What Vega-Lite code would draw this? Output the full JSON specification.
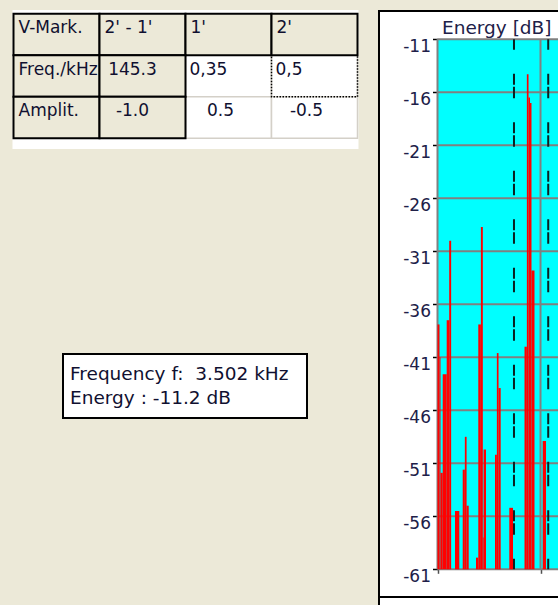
{
  "$schema": "https://vega.github.io/schema/vega-lite/v6.json",
  "background": "#ECE9D8",
  "padding": {"left": 12, "top": 9, "right": 0, "bottom": 0},
  "spacing": 18,
  "config": {"view": {"stroke": null}, "font": "DejaVu Sans"},
  "hconcat": [
    {
      "spacing": 204,
      "center": true,
      "vconcat": [
        {
          "width": 346,
          "height": 139,
          "view": {"fill": "white", "stroke": null},
          "data": {"values": [
            {"r": 0, "c": 0, "text": "V-Mark."}, {"r": 0, "c": 1, "text": "2' - 1'"}, {"r": 0, "c": 2, "text": "1'"}, {"r": 0, "c": 3, "text": "2'"},
            {"r": 1, "c": 0, "text": "Freq./kHz"}, {"r": 1, "c": 1, "text": "145.3"}, {"r": 1, "c": 2, "text": "0,35"}, {"r": 1, "c": 3, "text": "0,5"},
            {"r": 2, "c": 0, "text": "Amplit."}, {"r": 2, "c": 1, "text": "-1.0"}, {"r": 2, "c": 2, "text": "0.5"}, {"r": 2, "c": 3, "text": "-0.5"}
          ]},
          "encoding": {
            "x": {"field": "c", "type": "ordinal", "axis": null, "scale": {"paddingInner": 0, "paddingOuter": 0.0116}},
            "y": {"field": "r", "type": "ordinal", "axis": null, "scale": {"paddingInner": 0, "paddingOuter": 0.1747, "align": 0.255}}
          },
          "layer": [
            {"transform": [{"filter": "datum.r > 0 && datum.c > 1"}], "mark": {"type": "rect", "fill": "white", "stroke": "#D4D0C8", "strokeWidth": 1.5}},
            {"transform": [{"filter": "datum.r == 1 && datum.c == 3"}], "mark": {"type": "rect", "fill": null, "stroke": "#000000", "strokeWidth": 1.5, "strokeDash": [1.5, 1.5]}},
            {"transform": [{"filter": "datum.r == 0 || datum.c <= 1"}], "mark": {"type": "rect", "fill": "#ECE9D8", "stroke": "#000000", "strokeWidth": 2}},
            {
              "transform": [{"filter": "datum.r == 0 || datum.c == 0"}],
              "mark": {"type": "text", "align": "left", "baseline": "middle", "dx": 5, "dy": -6, "fontSize": 17, "limit": 80, "ellipsis": "", "color": "#101030"},
              "encoding": {"x": {"field": "c", "type": "ordinal", "bandPosition": 0}, "text": {"field": "text"}}
            },
            {
              "transform": [{"filter": "datum.r > 0 && datum.c == 1"}],
              "mark": {"type": "text", "align": "center", "baseline": "middle", "dx": -10, "dy": -6, "fontSize": 17, "color": "#101030"},
              "encoding": {"text": {"field": "text"}}
            },
            {
              "transform": [{"filter": "datum.r == 1 && datum.c > 1"}],
              "mark": {"type": "text", "align": "left", "baseline": "middle", "dx": 4, "dy": -6, "fontSize": 17, "color": "#101030"},
              "encoding": {"x": {"field": "c", "type": "ordinal", "bandPosition": 0}, "text": {"field": "text"}}
            },
            {
              "transform": [{"filter": "datum.r == 2 && datum.c > 1"}],
              "mark": {"type": "text", "align": "center", "baseline": "middle", "dx": -8, "dy": -6, "fontSize": 17, "color": "#101030"},
              "encoding": {"text": {"field": "text"}}
            }
          ]
        },
        {
          "width": 244,
          "height": 64,
          "view": {"fill": "white", "stroke": "#000000", "strokeWidth": 2},
          "data": {"values": [
            {"line": 1, "text": "Frequency f:\u00a0 3.502 kHz"},
            {"line": 2, "text": "Energy : -11.2 dB"}
          ]},
          "mark": {"type": "text", "align": "left", "baseline": "alphabetic", "dx": 7, "fontSize": 18.5, "color": "#101030"},
          "encoding": {
            "x": {"datum": 0, "type": "quantitative", "scale": {"domain": [0, 1]}, "axis": null},
            "y": {"field": "line", "type": "ordinal", "axis": null, "scale": {"type": "point", "padding": 0.817, "align": 0.655}},
            "text": {"field": "text"}
          }
        }
      ]
    },
    {
      "width": 180,
      "height": 596,
      "view": {"fill": "white", "stroke": null},
      "layer": [
        {
          "data": {"values": [{}]},
          "mark": {"type": "rect", "fill": "#00FFFF"},
          "encoding": {
            "x": {"datum": 0, "type": "quantitative", "scale": {"domain": [-2.3107, 4.6796], "nice": false, "zero": false},
              "axis": {"orient": "bottom", "offset": -36.7, "values": [0, 4], "labels": false, "domain": false, "grid": false, "tickSize": 4, "tickColor": "#505050", "tickWidth": 1.5, "title": null}},
            "x2": {"datum": 4.6796},
            "y": {"datum": -61, "type": "quantitative", "scale": {"domain": [-64.462, -8.236], "nice": false, "zero": false},
              "axis": {"orient": "left", "offset": -59.5, "values": [-11, -16, -21, -26, -31, -36, -41, -46, -51, -56, -61], "labelExpr": "replace(datum.label, '\u2212', '-')", "domain": false, "grid": false, "ticks": true, "tickSize": 5, "tickColor": "#000000", "tickWidth": 1.5, "labelFont": "DejaVu Sans", "labelFontSize": 17, "labelColor": "#202048", "labelBaseline": "top", "labelOffset": -1, "labelPadding": 2, "title": null}},
            "y2": {"datum": -11}
          }
        },
        {
          "data": {"values": [{"db": -11}, {"db": -16}, {"db": -21}, {"db": -26}, {"db": -31}, {"db": -36}, {"db": -41}, {"db": -46}, {"db": -51}, {"db": -56}, {"db": -61}]},
          "mark": {"type": "rule", "color": "#808080", "strokeWidth": 2},
          "encoding": {
            "y": {"field": "db", "type": "quantitative", "scale": {"domain": [-64.462, -8.236], "nice": false, "zero": false},
              "axis": {"orient": "left", "offset": -59.5, "values": [-11, -16, -21, -26, -31, -36, -41, -46, -51, -56, -61], "labelExpr": "replace(datum.label, '\u2212', '-')", "domain": false, "grid": false, "ticks": true, "tickSize": 5, "tickColor": "#000000", "tickWidth": 1.5, "labelFont": "DejaVu Sans", "labelFontSize": 17, "labelColor": "#202048", "labelBaseline": "top", "labelOffset": -1, "labelPadding": 2, "title": null}},
            "x": {"datum": 0, "type": "quantitative", "scale": {"domain": [-2.3107, 4.6796], "nice": false, "zero": false},
              "axis": {"orient": "bottom", "offset": -36.7, "values": [0, 4], "labels": false, "domain": false, "grid": false, "tickSize": 4, "tickColor": "#505050", "tickWidth": 1.5, "title": null}},
            "x2": {"datum": 4.6796}
          }
        },
        {
          "data": {"values": [{"f": 0}, {"f": 4}]},
          "mark": {"type": "rule", "color": "#808080", "strokeWidth": 2},
          "encoding": {
            "x": {"field": "f", "type": "quantitative", "scale": {"domain": [-2.3107, 4.6796], "nice": false, "zero": false},
              "axis": {"orient": "bottom", "offset": -36.7, "values": [0, 4], "labels": false, "domain": false, "grid": false, "tickSize": 4, "tickColor": "#505050", "tickWidth": 1.5, "title": null}},
            "y": {"datum": -61, "type": "quantitative", "scale": {"domain": [-64.462, -8.236], "nice": false, "zero": false},
              "axis": {"orient": "left", "offset": -59.5, "values": [-11, -16, -21, -26, -31, -36, -41, -46, -51, -56, -61], "labelExpr": "replace(datum.label, '\u2212', '-')", "domain": false, "grid": false, "ticks": true, "tickSize": 5, "tickColor": "#000000", "tickWidth": 1.5, "labelFont": "DejaVu Sans", "labelFontSize": 17, "labelColor": "#202048", "labelBaseline": "top", "labelOffset": -1, "labelPadding": 2, "title": null}},
            "y2": {"datum": -11}
          }
        },
        {
          "data": {"values": [
            {"f0": 0.000, "f1": 0.078, "db": -37.9},
            {"f0": 0.078, "f1": 0.117, "db": -41.0},
            {"f0": 0.117, "f1": 0.202, "db": -51.9},
            {"f0": 0.202, "f1": 0.357, "db": -42.6},
            {"f0": 0.357, "f1": 0.455, "db": -37.5},
            {"f0": 0.455, "f1": 0.530, "db": -30.0},
            {"f0": 0.680, "f1": 0.847, "db": -55.5},
            {"f0": 0.979, "f1": 1.062, "db": -51.6},
            {"f0": 1.062, "f1": 1.130, "db": -48.5},
            {"f0": 1.130, "f1": 1.212, "db": -55.0},
            {"f0": 1.495, "f1": 1.584, "db": -59.9},
            {"f0": 1.584, "f1": 1.685, "db": -37.9},
            {"f0": 1.685, "f1": 1.760, "db": -28.7},
            {"f0": 1.760, "f1": 1.790, "db": -58.0},
            {"f0": 1.790, "f1": 1.883, "db": -49.7},
            {"f0": 2.233, "f1": 2.305, "db": -50.2},
            {"f0": 2.305, "f1": 2.370, "db": -40.6},
            {"f0": 2.370, "f1": 2.454, "db": -43.9},
            {"f0": 2.788, "f1": 2.932, "db": -55.2},
            {"f0": 3.379, "f1": 3.470, "db": -40.0},
            {"f0": 3.470, "f1": 3.535, "db": -14.3},
            {"f0": 3.535, "f1": 3.592, "db": -16.5},
            {"f0": 3.592, "f1": 3.650, "db": -17.0},
            {"f0": 3.650, "f1": 3.767, "db": -32.8},
            {"f0": 4.085, "f1": 4.214, "db": -48.9}
          ]},
          "mark": {"type": "rect", "fill": "#FF0000"},
          "encoding": {
            "x": {"field": "f0", "type": "quantitative", "scale": {"domain": [-2.3107, 4.6796], "nice": false, "zero": false},
              "axis": {"orient": "bottom", "offset": -36.7, "values": [0, 4], "labels": false, "domain": false, "grid": false, "tickSize": 4, "tickColor": "#505050", "tickWidth": 1.5, "title": null}},
            "x2": {"field": "f1"},
            "y": {"field": "db", "type": "quantitative", "scale": {"domain": [-64.462, -8.236], "nice": false, "zero": false},
              "axis": {"orient": "left", "offset": -59.5, "values": [-11, -16, -21, -26, -31, -36, -41, -46, -51, -56, -61], "labelExpr": "replace(datum.label, '\u2212', '-')", "domain": false, "grid": false, "ticks": true, "tickSize": 5, "tickColor": "#000000", "tickWidth": 1.5, "labelFont": "DejaVu Sans", "labelFontSize": 17, "labelColor": "#202048", "labelBaseline": "top", "labelOffset": -1, "labelPadding": 2, "title": null}},
            "y2": {"datum": -61}
          }
        },
        {
          "data": {"values": [{"f": 2.97, "marker": "1'"}, {"f": 4.3, "marker": "2'"}]},
          "mark": {"type": "rule", "color": "#0a2020", "strokeWidth": 2, "strokeDash": [11, 2, 11.5, 24], "strokeDashOffset": 14},
          "encoding": {
            "x": {"field": "f", "type": "quantitative", "scale": {"domain": [-2.3107, 4.6796], "nice": false, "zero": false},
              "axis": {"orient": "bottom", "offset": -36.7, "values": [0, 4], "labels": false, "domain": false, "grid": false, "tickSize": 4, "tickColor": "#505050", "tickWidth": 1.5, "title": null}},
            "y": {"datum": -11, "type": "quantitative", "scale": {"domain": [-64.462, -8.236], "nice": false, "zero": false},
              "axis": {"orient": "left", "offset": -59.5, "values": [-11, -16, -21, -26, -31, -36, -41, -46, -51, -56, -61], "labelExpr": "replace(datum.label, '\u2212', '-')", "domain": false, "grid": false, "ticks": true, "tickSize": 5, "tickColor": "#000000", "tickWidth": 1.5, "labelFont": "DejaVu Sans", "labelFontSize": 17, "labelColor": "#202048", "labelBaseline": "top", "labelOffset": -1, "labelPadding": 2, "title": null}},
            "y2": {"datum": -61}
          }
        },
        {
          "data": {"values": [{"t": "Energy [dB]"}]},
          "mark": {"type": "text", "align": "left", "baseline": "alphabetic", "dx": 4.5, "dy": -5, "fontSize": 18.5, "color": "#202048"},
          "encoding": {
            "x": {"datum": 0, "type": "quantitative", "scale": {"domain": [-2.3107, 4.6796], "nice": false, "zero": false},
              "axis": {"orient": "bottom", "offset": -36.7, "values": [0, 4], "labels": false, "domain": false, "grid": false, "tickSize": 4, "tickColor": "#505050", "tickWidth": 1.5, "title": null}},
            "y": {"datum": -11, "type": "quantitative", "scale": {"domain": [-64.462, -8.236], "nice": false, "zero": false},
              "axis": {"orient": "left", "offset": -59.5, "values": [-11, -16, -21, -26, -31, -36, -41, -46, -51, -56, -61], "labelExpr": "replace(datum.label, '\u2212', '-')", "domain": false, "grid": false, "ticks": true, "tickSize": 5, "tickColor": "#000000", "tickWidth": 1.5, "labelFont": "DejaVu Sans", "labelFontSize": 17, "labelColor": "#202048", "labelBaseline": "top", "labelOffset": -1, "labelPadding": 2, "title": null}},
            "text": {"field": "t"}
          }
        },
        {
          "data": {"values": [{}]},
          "mark": {"type": "rule", "color": "#000000", "strokeWidth": 2},
          "encoding": {
            "x": {"datum": -2.2719, "type": "quantitative", "scale": {"domain": [-2.3107, 4.6796], "nice": false, "zero": false},
              "axis": {"orient": "bottom", "offset": -36.7, "values": [0, 4], "labels": false, "domain": false, "grid": false, "tickSize": 4, "tickColor": "#505050", "tickWidth": 1.5, "title": null}},
            "y": {"datum": -64.462, "type": "quantitative", "scale": {"domain": [-64.462, -8.236], "nice": false, "zero": false},
              "axis": {"orient": "left", "offset": -59.5, "values": [-11, -16, -21, -26, -31, -36, -41, -46, -51, -56, -61], "labelExpr": "replace(datum.label, '\u2212', '-')", "domain": false, "grid": false, "ticks": true, "tickSize": 5, "tickColor": "#000000", "tickWidth": 1.5, "labelFont": "DejaVu Sans", "labelFontSize": 17, "labelColor": "#202048", "labelBaseline": "top", "labelOffset": -1, "labelPadding": 2, "title": null}},
            "y2": {"datum": -8.236}
          }
        },
        {
          "data": {"values": [{}]},
          "mark": {"type": "rule", "color": "#000000", "strokeWidth": 2},
          "encoding": {
            "x": {"datum": -2.3107, "type": "quantitative", "scale": {"domain": [-2.3107, 4.6796], "nice": false, "zero": false},
              "axis": {"orient": "bottom", "offset": -36.7, "values": [0, 4], "labels": false, "domain": false, "grid": false, "tickSize": 4, "tickColor": "#505050", "tickWidth": 1.5, "title": null}},
            "x2": {"datum": 4.6796},
            "y": {"datum": -8.33, "type": "quantitative", "scale": {"domain": [-64.462, -8.236], "nice": false, "zero": false},
              "axis": {"orient": "left", "offset": -59.5, "values": [-11, -16, -21, -26, -31, -36, -41, -46, -51, -56, -61], "labelExpr": "replace(datum.label, '\u2212', '-')", "domain": false, "grid": false, "ticks": true, "tickSize": 5, "tickColor": "#000000", "tickWidth": 1.5, "labelFont": "DejaVu Sans", "labelFontSize": 17, "labelColor": "#202048", "labelBaseline": "top", "labelOffset": -1, "labelPadding": 2, "title": null}}
          }
        },
        {
          "data": {"values": [{}]},
          "mark": {"type": "rule", "color": "#000000", "strokeWidth": 2},
          "encoding": {
            "x": {"datum": -2.2719, "type": "quantitative", "scale": {"domain": [-2.3107, 4.6796], "nice": false, "zero": false},
              "axis": {"orient": "bottom", "offset": -36.7, "values": [0, 4], "labels": false, "domain": false, "grid": false, "tickSize": 4, "tickColor": "#505050", "tickWidth": 1.5, "title": null}},
            "x2": {"datum": 4.6796},
            "y": {"datum": -63.613, "type": "quantitative", "scale": {"domain": [-64.462, -8.236], "nice": false, "zero": false},
              "axis": {"orient": "left", "offset": -59.5, "values": [-11, -16, -21, -26, -31, -36, -41, -46, -51, -56, -61], "labelExpr": "replace(datum.label, '\u2212', '-')", "domain": false, "grid": false, "ticks": true, "tickSize": 5, "tickColor": "#000000", "tickWidth": 1.5, "labelFont": "DejaVu Sans", "labelFontSize": 17, "labelColor": "#202048", "labelBaseline": "top", "labelOffset": -1, "labelPadding": 2, "title": null}}
          }
        }
      ]
    }
  ]
}
